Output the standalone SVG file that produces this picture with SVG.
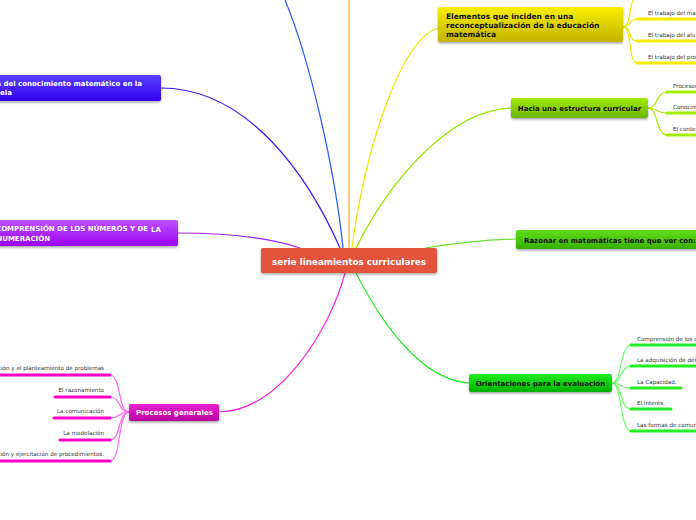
<svg xmlns="http://www.w3.org/2000/svg" width="696" height="520" viewBox="0 0 696 520">
<defs>
<linearGradient id="gY" x1="0" y1="0" x2="0" y2="1"><stop offset="0" stop-color="#f8ef00"/><stop offset="1" stop-color="#c2b400"/></linearGradient>
<linearGradient id="gL" x1="0" y1="0" x2="0" y2="1"><stop offset="0" stop-color="#a4ec00"/><stop offset="1" stop-color="#6cb400"/></linearGradient>
<linearGradient id="gR" x1="0" y1="0" x2="0" y2="1"><stop offset="0" stop-color="#62dc1a"/><stop offset="1" stop-color="#38b000"/></linearGradient>
<linearGradient id="gO" x1="0" y1="0" x2="0" y2="1"><stop offset="0" stop-color="#22ee22"/><stop offset="1" stop-color="#00b000"/></linearGradient>
<linearGradient id="gM" x1="0" y1="0" x2="0" y2="1"><stop offset="0" stop-color="#ea22d0"/><stop offset="1" stop-color="#b800a0"/></linearGradient>
<linearGradient id="gI" x1="0" y1="0" x2="0" y2="1"><stop offset="0" stop-color="#5a40ff"/><stop offset="1" stop-color="#3000ee"/></linearGradient>
<linearGradient id="gP" x1="0" y1="0" x2="0" y2="1"><stop offset="0" stop-color="#c050ff"/><stop offset="1" stop-color="#9a00f0"/></linearGradient>
<filter id="sh" x="-10%" y="-30%" width="120%" height="170%"><feDropShadow dx="0" dy="1.5" stdDeviation="1.2" flood-color="#000" flood-opacity="0.35"/></filter>
</defs>
<style>
.box{filter:url(#sh)}
.t{font-family:"DejaVu Sans",Verdana,sans-serif;font-weight:bold;font-size:7px}
.tw{fill:#fff}
.tb{fill:#111}
.big{font-size:8.8px}
.el{font-size:7.5px}
.s{font-family:"DejaVu Sans",Verdana,sans-serif;font-size:5.6px;fill:#333}
.c{fill:none;stroke-width:1.2}
.u{stroke-width:3;stroke-linecap:round}
</style>
<g id="connectors">
<path class="c" stroke="#ffa030" d="M349,0 L349,248"/>
<path class="c" stroke="#2a5cff" d="M285,0 C310,60 335,170 343,248"/>
<path class="c" stroke="#3a18ee" d="M161,88 C250,88 310,180 340,248"/>
<path class="c" stroke="#a020f0" d="M178,233 C230,233 270,238 300,248"/>
<path class="c" stroke="#f0e800" d="M438,28 C400,40 365,150 352,248"/>
<path class="c" stroke="#99e600" d="M511,108 C450,110 390,180 356,248"/>
<path class="c" stroke="#66e030" d="M516,239 C480,240 450,244 425,248"/>
<path class="c" stroke="#22ee22" d="M469,383 C420,380 380,320 356,273"/>
<path class="c" stroke="#ff22dd" d="M220,412 C280,410 330,330 345,273"/>
<g stroke="#f0e800" class="c" stroke-width="0.8">
<path d="M623,27 C632,27 628,-2 637,-2"/>
<path d="M623,27 C632,27 628,19 637,19"/>
<path d="M623,27 C632,27 628,41 637,41"/>
<path d="M623,27 C632,27 628,63 637,63"/>
</g>
<g stroke="#a4ec00" class="c" stroke-width="0.8">
<path d="M648,108 C658,108 656,92 667,92"/>
<path d="M648,108 C658,108 656,113 667,113"/>
<path d="M648,108 C658,108 656,135 667,135"/>
</g>
<g stroke="#66ff66" class="c" stroke-width="0.8">
<path d="M612,383 C622,383 620,345 631,345"/>
<path d="M612,383 C622,383 620,366 631,366"/>
<path d="M612,383 C622,383 620,388 631,388"/>
<path d="M612,383 C622,383 620,409 631,409"/>
<path d="M612,383 C622,383 620,431 631,431"/>
</g>
<g stroke="#ff66ee" class="c" stroke-width="0.8">
<path d="M129,412 C118,412 121,375 110,375"/>
<path d="M129,412 C118,412 121,397 110,397"/>
<path d="M129,412 C118,412 121,418 110,418"/>
<path d="M129,412 C118,412 121,440 110,440"/>
<path d="M129,412 C118,412 121,461 110,461"/>
</g>
</g>
<g id="center">
<rect class="box" x="261" y="248" width="176" height="25" rx="2" fill="#e4533a"/>
<text class="t tw big" x="349" y="264.5" text-anchor="middle">serie lineamientos curriculares</text>
</g>
<g id="elementos">
<rect class="box" x="438" y="7" width="185" height="35" rx="2" fill="url(#gY)"/>
<text class="t tb el" x="446" y="19">Elementos que inciden en una</text>
<text class="t tb el" x="446" y="28">reconceptualización de la educación</text>
<text class="t tb el" x="446" y="37">matemática</text>
</g>
<g id="el1"><line class="u" stroke="#f5ea00" x1="637" y1="-2" x2="700" y2="-2"/></g>
<g id="el2"><text class="s" x="648" y="15">El trabajo del mat</text><line class="u" stroke="#f5ea00" x1="637" y1="19" x2="700" y2="19"/></g>
<g id="el3"><text class="s" x="648" y="37">El trabajo del alu</text><line class="u" stroke="#f5ea00" x1="637" y1="41" x2="700" y2="41"/></g>
<g id="el4"><text class="s" x="648" y="59">El trabajo del pro</text><line class="u" stroke="#f5ea00" x1="637" y1="63" x2="700" y2="63"/></g>
<g id="hacia">
<rect class="box" x="511" y="98" width="137" height="20" rx="2" fill="url(#gL)"/>
<text class="t tb" x="579.5" y="111" text-anchor="middle">Hacia una estructura curricular</text>
</g>
<g id="ha1"><text class="s" x="673" y="88">Procesos</text><line class="u" stroke="#a4ec00" x1="667" y1="92" x2="700" y2="92"/></g>
<g id="ha2"><text class="s" x="673" y="109">Conocim</text><line class="u" stroke="#a4ec00" x1="667" y1="113" x2="700" y2="113"/></g>
<g id="ha3"><text class="s" x="673" y="131">El contex</text><line class="u" stroke="#a4ec00" x1="667" y1="135" x2="700" y2="135"/></g>
<g id="razonar">
<rect class="box" x="516" y="230" width="186" height="19" rx="2" fill="url(#gR)"/>
<text class="t tb" x="524" y="243">Razonar en matemáticas tiene que ver con:</text>
</g>
<g id="orientaciones">
<rect class="box" x="469" y="374" width="143" height="18" rx="2" fill="url(#gO)"/>
<text class="t tb" x="540.5" y="386" text-anchor="middle">Orientaciones para la evaluación</text>
</g>
<g id="or1"><text class="s" x="637" y="341">Comprensión de los c</text><line class="u" stroke="#22ee22" x1="631" y1="345" x2="700" y2="345"/></g>
<g id="or2"><text class="s" x="637" y="362">La adquisición de des</text><line class="u" stroke="#22ee22" x1="631" y1="366" x2="700" y2="366"/></g>
<g id="or3"><text class="s" x="637" y="384">La Capacidad.</text><line class="u" stroke="#22ee22" x1="631" y1="388" x2="681" y2="388"/></g>
<g id="or4"><text class="s" x="637" y="405">El Interés.</text><line class="u" stroke="#22ee22" x1="631" y1="409" x2="671" y2="409"/></g>
<g id="or5"><text class="s" x="637" y="427">Las formas de comun</text><line class="u" stroke="#22ee22" x1="631" y1="431" x2="700" y2="431"/></g>
<g id="procesos">
<rect class="box" x="129" y="404" width="90" height="17" rx="2" fill="url(#gM)"/>
<text class="t tw" x="136" y="415">Procesos generales</text>
</g>
<g id="pr1"><text class="s" x="104" y="370" text-anchor="end">ción y el planteamiento de problemas</text><line class="u" stroke="#ff00cc" x1="-5" y1="375" x2="110" y2="375"/></g>
<g id="pr2"><text class="s" x="104" y="392" text-anchor="end">El razonamiento</text><line class="u" stroke="#ff00cc" x1="55" y1="397" x2="110" y2="397"/></g>
<g id="pr3"><text class="s" x="104" y="413" text-anchor="end">La comunicación</text><line class="u" stroke="#ff00cc" x1="54" y1="418" x2="110" y2="418"/></g>
<g id="pr4"><text class="s" x="104" y="435" text-anchor="end">La modelación</text><line class="u" stroke="#ff00cc" x1="60" y1="440" x2="110" y2="440"/></g>
<g id="pr5"><text class="s" x="104" y="456" text-anchor="end">ción y ejercitación de procedimientos.</text><line class="u" stroke="#ff00cc" x1="-5" y1="461" x2="110" y2="461"/></g>
<g id="indigo">
<rect class="box" x="-10" y="75" width="171" height="26" rx="2" fill="url(#gI)"/>
<text class="t tw" x="142" y="86" text-anchor="end">a del conocimiento matemático en la</text>
<text class="t tw" x="0" y="95">ela</text>
</g>
<g id="purple">
<rect class="box" x="-10" y="220" width="188" height="26" rx="2" fill="url(#gP)"/>
<text class="t tw" x="148" y="231" text-anchor="end">COMPRENSIÓN DE LOS NÚMEROS Y DE</text>
<text class="t tw" x="151" y="232">LA</text>
<text class="t tw" x="50" y="241" text-anchor="end">NUMERACIÓN</text>
</g>
</svg>
